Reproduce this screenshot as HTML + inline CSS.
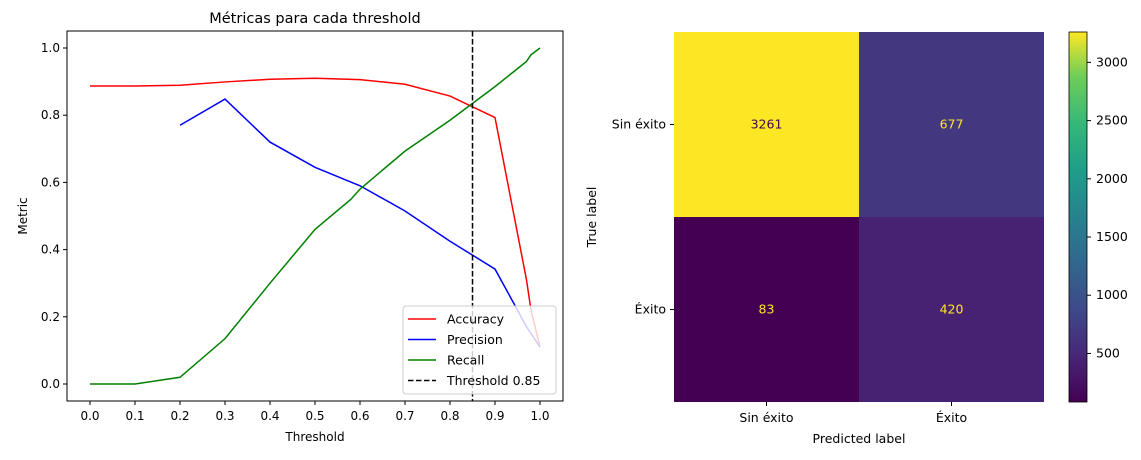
<!DOCTYPE html>
<html><head><meta charset="utf-8"><style>
body{margin:0;background:#fff;width:1141px;height:455px;overflow:hidden}
svg{font-family:"DejaVu Sans","Liberation Sans",sans-serif}
</style></head><body>
<svg id="s" width="1141" height="455">
<defs><linearGradient id="vir" x1="0" y1="1" x2="0" y2="0">
<stop offset="0" stop-color="#440154"/><stop offset="0.13" stop-color="#482878"/><stop offset="0.25" stop-color="#3e4989"/><stop offset="0.38" stop-color="#31688e"/><stop offset="0.5" stop-color="#26828e"/><stop offset="0.63" stop-color="#1f9e89"/><stop offset="0.75" stop-color="#35b779"/><stop offset="0.88" stop-color="#6ece58"/><stop offset="1" stop-color="#fde725"/></linearGradient></defs>
<g id="left"></g>
<g id="right"></g>
</svg>
<script>
const thrAcc=[0,0.1,0.2,0.3,0.4,0.5,0.6,0.7,0.8,0.9,0.97,0.98,1.0];
const accuracy=[0.887,0.887,0.889,0.899,0.907,0.91,0.906,0.892,0.857,0.793,0.31,0.22,0.11];
const thrPrec=[0.2,0.3,0.4,0.5,0.6,0.7,0.8,0.9,0.95,0.97,1.0];
const precision=[0.77,0.848,0.72,0.645,0.59,0.515,0.425,0.342,0.22,0.17,0.11];
const thrRec=[0,0.1,0.2,0.3,0.4,0.5,0.58,0.6,0.7,0.8,0.9,0.97,0.98,1.0];
const recall=[0,0,0.02,0.135,0.3,0.46,0.55,0.58,0.693,0.785,0.885,0.96,0.98,1.0];
const thresholdLine=0.85;
const xTicks=[0,0.1,0.2,0.3,0.4,0.5,0.6,0.7,0.8,0.9,1.0];
const yTicks=[0,0.2,0.4,0.6,0.8,1.0];
const cmLabels=["Sin éxito","Éxito"];
const cmValues=[[3261,677],[83,420]];
const cbTicks=[500,1000,1500,2000,2500,3000];

const NS="http://www.w3.org/2000/svg";
function mk(p,t,a,txt){const e=document.createElementNS(NS,t);for(const k in a)e.setAttribute(k,a[k]);if(txt!==undefined)e.textContent=txt;p.appendChild(e);return e;}
const L=document.getElementById('left'),R=document.getElementById('right');
const X=v=>90+v*450, Y=v=>384-v*336;
let e=mk(L,'rect',{x:67,y:31,width:496,height:370,fill:'none',stroke:'#000','stroke-width':1});

xTicks.forEach(t=>{mk(L,'line',{x1:X(t),x2:X(t),y1:401,y2:405,stroke:'#000'});
 e=mk(L,'text',{x:X(t),y:420,'font-size':12,'text-anchor':'middle'},t.toFixed(1));
 });
yTicks.forEach(t=>{mk(L,'line',{x1:63,x2:67,y1:Y(t),y2:Y(t),stroke:'#000'});
 e=mk(L,'text',{x:60,y:Y(t)+4,'font-size':12,'text-anchor':'end'},t.toFixed(1));
 });
e=mk(L,'text',{x:315,y:441,'font-size':12,'text-anchor':'middle'},'Threshold');

e=mk(L,'text',{x:27,y:216,'font-size':12,'text-anchor':'middle',transform:'rotate(-90 27 216)'},'Metric');

e=mk(L,'text',{x:315,y:23,'font-size':14.5,'text-anchor':'middle'},'Métricas para cada threshold');

function line(xs,ys,c,n){const d=xs.map((x,i)=>(i?'L':'M')+X(x)+' '+Y(ys[i])).join(' ');
 const p=mk(L,'path',{d,fill:'none',stroke:c,'stroke-width':1.5});
 }
line(thrAcc,accuracy,'red','accuracy-line');
line(thrPrec,precision,'blue','precision-line');
line(thrRec,recall,'green','recall-line');
e=mk(L,'line',{x1:X(thresholdLine),x2:X(thresholdLine),y1:31,y2:401,stroke:'#000','stroke-width':1.5,'stroke-dasharray':'5.5,2.5'});

const lg=mk(L,'g',{});
mk(lg,'rect',{x:403,y:306,width:153,height:88,rx:3,fill:'#fff','fill-opacity':0.8,stroke:'#ccc'});
[['Accuracy','red',''],['Precision','blue',''],['Recall','green',''],['Threshold 0.85','#000','5.5,2.5']].forEach((it,i)=>{
 const y=319+i*20.5;
 mk(lg,'line',{x1:408,x2:436,y1:y,y2:y,stroke:it[1],'stroke-width':1.5,'stroke-dasharray':it[2]});
 e=mk(lg,'text',{x:447,y:y+4.5,'font-size':12.5},it[0]);
 });
const vmin=83,vmax=3261;
const stops=[[68,1,84],[72,40,120],[62,73,137],[49,104,142],[38,130,142],[31,158,137],[53,183,121],[110,206,88],[253,231,37]];
function vir(v){let t=(v-vmin)/(vmax-vmin)*8;const i=Math.min(7,Math.floor(t)),f=t-i;const a=stops[i],b=stops[i+1];
 return 'rgb('+a.map((c,k)=>Math.round(c+(b[k]-c)*f)).join(',')+')';}
const cx=674,cy=32,cs=185;
cmValues.forEach((row,r)=>row.forEach((v,c)=>{
 e=mk(R,'rect',{x:cx+c*cs,y:cy+r*cs,width:cs,height:cs,fill:vir(v)});
 
 e=mk(R,'text',{x:cx+c*cs+cs/2,y:cy+r*cs+cs/2+4,'font-size':12.5,'text-anchor':'middle',fill:(v-vmin)/(vmax-vmin)>0.5?'#440154':'#fde725'},v);
 }));
cmLabels.forEach((l,i)=>{
 mk(R,'line',{x1:cx+i*cs+cs/2,x2:cx+i*cs+cs/2,y1:402,y2:406,stroke:'#000'});
 e=mk(R,'text',{x:cx+i*cs+cs/2,y:422,'font-size':12.5,'text-anchor':'middle'},l);
 
 mk(R,'line',{x1:670,x2:674,y1:cy+i*cs+cs/2,y2:cy+i*cs+cs/2,stroke:'#000'});
 e=mk(R,'text',{x:666,y:cy+i*cs+cs/2+4,'font-size':12.5,'text-anchor':'end'},l);
 });
e=mk(R,'text',{x:859,y:443,'font-size':12.5,'text-anchor':'middle'},'Predicted label');

e=mk(R,'text',{x:596,y:217,'font-size':12.5,'text-anchor':'middle',transform:'rotate(-90 596 217)'},'True label');

e=mk(R,'rect',{x:1069,y:32,width:18,height:370,fill:'url(#vir)',stroke:'#000','stroke-width':0.8});

const CB=v=>402-(v-vmin)/(vmax-vmin)*370;
cbTicks.forEach(t=>{mk(R,'line',{x1:1087,x2:1091,y1:CB(t),y2:CB(t),stroke:'#000'});
 e=mk(R,'text',{x:1096,y:CB(t)+4,'font-size':12.5},t);
 });
</script>
</body></html>
